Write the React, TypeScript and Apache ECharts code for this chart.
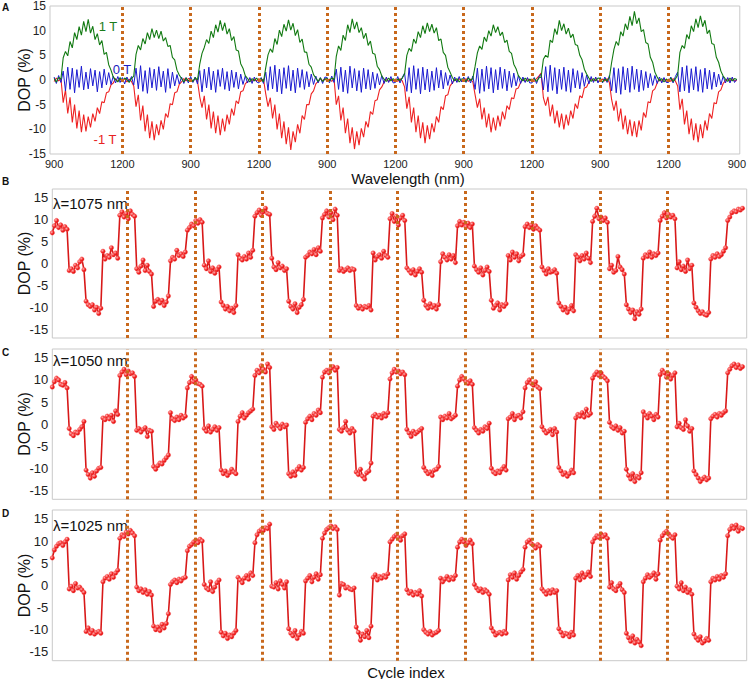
import React, { useEffect, useRef } from "react";
import * as echarts from "echarts";

// ---------- Panel A: DOP vs wavelength, 10 sweeps (900->1200->900 ...), 10 nm steps ----------
const sweepLabels = ["900", "1200", "900", "1200", "900", "1200", "900", "1200", "900", "1200", "900"];

const green1T = [
  [0.3, -0.4, 0.5, 0.2, 4.5, 5.8, 4.9, 7.8, 6.5, 9.6, 8.2, 10.8, 9.1, 11.9, 9.8, 12.3, 9.5, 10.9, 8.2, 9.4, 7.1, 8.0, 5.2, 5.6, 3.1, 2.0, 0.6, 0.1, -0.4, 0.5],
  [-0.3, 0.4, 0.1, -0.5, 0.3, 0.8, 5.2, 7.0, 6.1, 8.4, 7.3, 9.6, 8.2, 10.4, 8.6, 10.1, 8.4, 9.9, 7.9, 8.6, 6.8, 7.0, 4.6, 4.1, 2.0, 1.0, 0.3, -0.4, 0.4, -0.2],
  [0.2, -0.3, 0.5, 0.0, 3.2, 5.4, 6.6, 8.2, 7.4, 9.9, 8.6, 11.2, 9.7, 12.1, 10.0, 11.6, 9.3, 10.4, 8.0, 8.8, 6.1, 5.9, 3.3, 2.4, 0.9, 0.3, -0.4, 0.3, -0.2, 0.4],
  [-0.2, 0.3, -0.4, 2.5, 5.1, 6.3, 5.6, 8.4, 7.2, 10.1, 8.8, 11.3, 9.9, 12.2, 10.1, 11.5, 9.0, 10.2, 7.6, 8.3, 5.7, 5.6, 3.2, 2.6, 1.1, 0.4, -0.3, 0.4, -0.3, 0.2],
  [0.3, -0.2, 0.4, 0.1, 4.8, 6.9, 6.0, 9.1, 8.0, 11.2, 9.6, 12.4, 10.3, 11.8, 9.6, 10.6, 8.4, 9.5, 7.0, 7.9, 5.4, 5.2, 2.8, 2.1, 0.8, 0.2, -0.3, 0.4, -0.2, 0.3],
  [-0.3, 0.2, -0.1, 0.4, 1.2, 5.0, 6.4, 5.8, 8.3, 7.4, 9.8, 8.6, 11.0, 9.4, 11.6, 9.8, 11.3, 9.5, 10.6, 8.0, 8.3, 5.6, 5.0, 2.6, 1.6, 0.5, -0.2, 0.3, -0.4, 0.2],
  [0.2, -0.3, 0.4, -0.1, 0.3, 2.8, 5.5, 6.9, 6.2, 8.7, 7.8, 10.0, 8.9, 11.2, 9.6, 10.8, 9.0, 9.7, 7.6, 8.1, 5.8, 5.4, 3.2, 2.3, 0.9, 0.3, -0.2, 0.4, -0.3, 0.2],
  [-0.2, 0.3, -0.3, 0.4, 0.6, 4.2, 5.0, 4.6, 8.1, 7.6, 10.4, 9.2, 12.1, 10.0, 11.4, 9.3, 10.5, 8.6, 9.3, 7.2, 7.0, 5.0, 4.1, 2.2, 1.2, 0.4, -0.3, 0.3, -0.2, 0.4],
  [0.3, -0.4, 0.2, -0.2, 0.5, 3.6, 6.2, 7.8, 7.0, 9.8, 8.9, 11.4, 10.2, 12.9, 11.0, 13.9, 11.4, 12.6, 9.8, 10.2, 7.6, 7.3, 4.6, 3.6, 1.6, 0.6, -0.2, 0.3, -0.4, 0.2],
  [-0.2, 0.4, -0.3, 0.2, 1.0, 5.6, 7.0, 6.4, 9.2, 8.3, 11.0, 9.8, 12.4, 10.6, 13.0, 10.8, 12.1, 9.4, 10.1, 7.4, 7.2, 4.6, 3.6, 1.8, 0.8, 0.2, -0.3, 0.4, -0.2, 0.3, 0.1],
];

const blue0T = [
  [0.6, -0.7, 0.9, -0.5, 1.8, -2.2, 2.6, -1.9, 2.4, -2.6, 2.1, -1.5, 2.8, -2.0, 1.6, -1.8, 2.3, -1.2, 2.0, -2.4, 1.7, -1.6, 2.2, -1.0, 1.5, -0.9, 0.8, -0.6, 0.7, -0.5],
  [0.5, -0.8, 0.6, -0.4, 0.7, -1.0, 2.4, -1.8, 2.9, -2.3, 1.9, -2.7, 2.5, -1.6, 2.2, -2.1, 2.7, -1.4, 1.8, -2.5, 2.3, -1.7, 1.6, -1.2, 1.1, -0.8, 0.6, -0.7, 0.5, -0.6],
  [0.7, -0.5, 0.6, -0.8, 1.9, -2.4, 2.2, -1.6, 2.6, -2.0, 1.8, -2.5, 2.1, -1.3, 2.4, -1.9, 1.7, -2.2, 2.0, -1.5, 1.6, -1.8, 1.2, -0.9, 0.8, -0.6, 0.5, -0.7, 0.6, -0.4],
  [-0.6, 0.5, -0.7, 1.6, -2.1, 2.7, -1.8, 3.0, -2.4, 2.2, -2.8, 2.5, -1.7, 2.9, -2.2, 2.0, -2.6, 2.4, -1.5, 2.1, -1.9, 1.7, -1.4, 1.2, -0.9, 0.8, -0.6, 0.5, -0.7, 0.6],
  [0.5, -0.6, 0.8, -0.5, 2.2, -1.9, 2.6, -2.4, 2.0, -2.7, 2.8, -1.6, 2.3, -2.2, 1.9, -2.5, 2.4, -1.8, 2.1, -2.0, 1.6, -1.7, 1.3, -1.0, 0.9, -0.7, 0.6, -0.5, 0.7, -0.6],
  [-0.5, 0.7, -0.6, 0.5, 1.4, -2.3, 2.5, -2.6, 2.9, -1.9, 2.3, -2.8, 2.6, -2.0, 2.2, -2.4, 1.8, -2.1, 2.5, -1.6, 2.0, -1.8, 1.5, -1.1, 1.0, -0.8, 0.6, -0.5, 0.7, -0.4],
  [0.6, -0.5, 0.7, -0.6, 0.8, -1.9, 2.4, -2.7, 2.2, -2.3, 2.8, -1.8, 2.5, -2.6, 2.1, -2.0, 2.6, -1.7, 2.2, -2.2, 1.8, -1.5, 1.4, -1.2, 0.9, -0.7, 0.6, -0.5, 0.5, -0.6],
  [-0.6, 0.5, -0.7, 0.6, 1.2, -2.0, 2.7, -2.4, 3.0, -2.1, 2.5, -2.8, 2.2, -1.9, 2.6, -2.3, 2.0, -2.5, 2.3, -1.6, 1.9, -1.8, 1.5, -1.3, 1.0, -0.8, 0.7, -0.5, 0.6, -0.6],
  [0.5, -0.6, 0.6, -0.5, 0.9, -2.2, 2.5, -2.6, 2.3, -2.9, 2.7, -2.0, 2.4, -2.5, 2.8, -1.9, 2.2, -2.4, 2.0, -2.1, 1.7, -1.6, 1.3, -1.1, 0.9, -0.7, 0.6, -0.6, 0.5, -0.5],
  [-0.5, 0.6, -0.6, 0.7, 1.6, -2.4, 2.6, -2.2, 2.9, -2.6, 2.3, -2.0, 2.7, -2.3, 2.1, -2.5, 2.4, -1.8, 2.0, -1.9, 1.6, -1.4, 1.2, -1.0, 0.8, -0.6, 0.5, -0.6, 0.6, -0.5, 0.2],
];

const redMinus1T = [
  [-0.3, 0.4, -0.2, 0.3, -4.6, -2.0, -6.8, -3.5, -8.6, -5.0, -9.8, -6.2, -10.6, -7.0, -10.4, -7.4, -9.6, -6.8, -8.4, -5.6, -6.8, -4.4, -4.6, -2.6, -2.4, -1.0, -0.6, 0.3, -0.3, 0.2],
  [-0.2, 0.3, -0.4, 0.2, -0.3, -1.2, -5.4, -3.0, -8.2, -5.2, -10.4, -7.0, -11.8, -8.4, -12.2, -9.0, -11.2, -8.2, -10.0, -6.8, -7.6, -4.8, -5.0, -2.6, -2.4, -0.9, -0.4, 0.3, -0.2, 0.3],
  [0.2, -0.3, 0.3, -0.2, -3.4, -5.6, -3.2, -8.0, -5.0, -9.8, -6.4, -10.8, -7.2, -11.2, -7.8, -10.4, -7.0, -9.0, -5.8, -7.2, -4.2, -4.8, -2.4, -2.2, -0.8, -0.3, 0.3, -0.3, 0.2, -0.2],
  [0.3, -0.2, 0.2, -2.8, -5.4, -3.6, -7.8, -5.0, -10.0, -6.8, -11.8, -8.4, -13.0, -9.6, -14.2, -10.4, -12.6, -9.0, -10.8, -7.2, -8.0, -5.0, -5.0, -2.8, -2.2, -0.8, -0.3, 0.3, -0.2, 0.3],
  [-0.3, 0.2, -0.3, 0.3, -5.0, -3.2, -8.2, -5.6, -10.8, -7.8, -12.8, -9.6, -14.0, -10.4, -13.2, -9.8, -11.6, -8.4, -9.6, -6.4, -7.0, -4.2, -4.0, -2.0, -1.4, -0.4, 0.3, -0.3, 0.2, -0.2],
  [0.2, -0.3, 0.3, -0.2, -1.4, -5.8, -3.4, -8.6, -5.6, -10.6, -7.2, -11.8, -8.6, -12.8, -9.2, -12.0, -8.8, -10.6, -7.4, -8.6, -5.4, -6.0, -3.2, -3.0, -1.2, -0.6, 0.2, -0.3, 0.3, -0.2],
  [-0.2, 0.3, -0.3, 0.2, -0.4, -3.0, -5.6, -3.8, -8.0, -5.6, -9.6, -6.8, -10.6, -7.6, -10.2, -7.2, -9.4, -6.4, -8.0, -5.2, -6.0, -3.6, -3.8, -1.8, -1.6, -0.5, 0.2, -0.3, 0.3, -0.2],
  [0.2, -0.3, 0.3, 0.8, 1.4, -3.6, -5.2, -3.4, -7.4, -5.0, -8.8, -6.2, -9.6, -6.8, -10.0, -7.0, -9.2, -6.2, -7.8, -4.8, -5.8, -3.2, -3.6, -1.6, -1.4, -0.4, 0.3, -0.2, 0.3, -0.3],
  [-0.3, 0.2, -0.2, 0.3, -0.5, -4.0, -6.2, -4.2, -8.4, -5.8, -10.0, -7.2, -11.0, -8.0, -11.4, -8.4, -11.6, -8.2, -10.2, -6.6, -7.6, -4.4, -4.6, -2.2, -1.8, -0.6, 0.2, -0.3, 0.2, -0.3],
  [0.2, -0.3, 0.3, -0.2, -1.2, -6.0, -3.8, -9.0, -6.2, -11.0, -7.8, -12.2, -8.8, -12.6, -9.0, -11.8, -8.2, -10.2, -6.8, -7.8, -4.6, -4.8, -2.4, -2.0, -0.7, -0.2, 0.3, -0.2, 0.3, -0.2, -0.1],
];

// ---------- Panels B-D: DOP vs cycle index, one row per field step (8 samples each) ----------
const dop1075 = [
  [7.0, 8.6, 9.8, 8.2, 8.8, 7.6, 8.4, 7.8],
  [-1.6, -1.2, -1.8, -0.4, -1.0, 0.4, 1.0, -1.4],
  [-8.6, -9.4, -9.8, -9.4, -10.6, -10.0, -11.4, -10.2],
  [2.8, 1.0, 1.8, 1.4, 3.6, 2.0, 2.4, 1.2],
  [11.0, 11.8, 10.6, 11.4, 10.2, 12.0, 11.2, 10.8],
  [-1.2, -2.0, -0.6, 0.8, -1.6, -0.4, -1.8, -2.4],
  [-9.8, -8.6, -8.2, -9.0, -8.4, -9.6, -8.8, -7.4],
  [0.6, 1.4, 1.0, 3.0, 1.8, 2.2, 1.6, 2.6],
  [7.6, 8.2, 9.0, 8.6, 9.8, 9.2, 10.0, 9.4],
  [-0.4, -1.2, 0.6, -1.8, -1.0, -2.2, -1.4, -0.8],
  [-8.8, -9.6, -10.4, -9.8, -10.8, -10.2, -11.2, -9.6],
  [2.0, 1.2, 0.8, 1.6, 1.0, 2.4, 1.4, 3.0],
  [10.8, 11.6, 12.2, 11.0, 11.8, 12.6, 11.4, 11.2],
  [1.2, -0.8, -1.4, 0.2, -1.0, -0.6, -1.6, -1.2],
  [-8.6, -9.8, -10.4, -9.2, -11.2, -10.0, -9.4, -8.2],
  [1.4, 1.8, 2.6, 2.2, 3.2, 2.0, 3.6, 2.8],
  [10.4, 11.2, 12.0, 10.6, 11.6, 10.0, 12.4, 11.0],
  [-1.6, -1.2, -1.8, -1.4, -1.0, -1.6, -1.2, -1.4],
  [-9.6, -10.2, -9.8, -10.4, -9.8, -10.0, -9.6, -10.6],
  [2.4, 0.8, 1.6, 2.0, 1.2, 2.8, 1.8, 1.4],
  [10.2, 11.4, 9.6, 10.8, 8.8, 10.4, 11.0, 9.8],
  [-1.0, -1.6, -2.2, -1.4, -2.6, -1.8, -1.2, -2.0],
  [-8.4, -9.6, -10.2, -9.2, -10.0, -9.6, -10.4, -9.4],
  [0.4, 2.2, 1.4, 0.8, 2.0, 1.0, 1.8, 0.2],
  [8.6, 9.6, 8.8, 9.4, 8.4, 9.2, 8.2, 9.0],
  [-0.6, -1.4, -2.0, -1.0, -2.6, -1.6, -0.8, -1.8],
  [-8.4, -10.2, -9.6, -9.0, -10.6, -9.4, -9.8, -9.2],
  [1.8, 0.8, 2.6, 1.4, 2.2, 0.6, 1.6, 2.0],
  [8.4, 9.0, 8.2, 8.8, 7.8, 8.6, 8.0, 7.6],
  [-0.8, -1.6, -2.4, -1.2, -2.0, -1.8, -1.4, -2.2],
  [-9.0, -9.8, -10.6, -10.0, -11.2, -10.4, -9.6, -10.8],
  [2.0, 1.4, 0.6, 1.8, 1.0, 2.4, 1.2, 0.2],
  [9.6, 10.8, 12.6, 10.2, 10.6, 9.8, 10.4, 9.4],
  [-1.2, -0.4, -2.0, -1.6, 1.6, -0.8, -1.4, -2.4],
  [-9.4, -10.4, -11.2, -10.6, -12.6, -11.0, -11.6, -10.4],
  [1.2, 2.0, 1.6, 2.6, 1.4, 2.2, 1.8, 2.4],
  [9.8, 10.8, 11.6, 10.4, 11.2, 10.6, 11.0, 10.2],
  [-1.0, 0.4, -1.4, -0.6, -1.8, 0.8, -1.2, -0.4],
  [-9.0, -10.0, -10.8, -11.4, -11.0, -11.6, -11.8, -11.2],
  [1.0, 1.8, 1.4, 2.2, 1.6, 2.0, 2.8, 3.6],
  [9.8, 10.6, 11.6, 12.0, 11.8, 12.4, 12.2, 12.6],
];

const dop1050 = [
  [8.4, 9.6, 10.4, 10.0, 9.0, 8.8, 9.4, 8.2],
  [-1.0, -2.2, -2.6, -1.8, -2.0, -1.2, -0.6, 0.6],
  [-10.4, -11.4, -12.2, -11.0, -11.8, -10.6, -10.0, -9.8],
  [1.4, 1.0, 1.8, 1.2, 2.0, 0.6, 3.0, 2.2],
  [11.0, 11.8, 12.4, 11.2, 12.0, 11.4, 11.6, 10.8],
  [-1.4, -1.0, -1.8, -1.2, -0.8, -2.8, -1.4, -1.6],
  [-9.6, -10.2, -9.4, -8.8, -9.0, -8.2, -7.6, -7.0],
  [2.6, 1.2, 0.8, 1.6, 1.0, 2.0, 1.4, 1.8],
  [8.2, 9.4, 10.8, 9.6, 10.0, 9.2, 9.0, 8.6],
  [-1.0, -1.6, -0.4, -1.8, -1.2, -0.6, -1.4, -0.8],
  [-10.4, -11.2, -10.6, -11.6, -11.0, -10.2, -10.8, -11.2],
  [0.6, 1.8, 2.6, 1.4, 2.0, 2.6, 3.0, 3.4],
  [11.0, 12.2, 11.6, 13.2, 12.4, 11.8, 13.6, 12.8],
  [-0.6, -1.2, 0.2, -0.4, -1.0, 0.0, -0.6, -0.2],
  [-11.2, -11.8, -10.8, -11.6, -10.2, -9.6, -10.4, -9.8],
  [0.4, 1.2, 1.8, 1.0, 2.4, 2.0, 3.2, 2.6],
  [10.6, 11.8, 12.2, 11.6, 12.6, 13.0, 12.2, 12.8],
  [-1.2, -1.6, -0.8, 0.6, -1.4, -2.0, -1.0, -1.6],
  [-10.8, -11.4, -10.2, -11.8, -12.4, -11.0, -10.6, -8.8],
  [1.8, 2.2, 1.6, 2.0, 1.4, 2.4, 1.8, 2.6],
  [10.2, 11.6, 12.4, 11.8, 12.0, 11.4, 11.8, 11.2],
  [-1.2, -2.0, -2.8, -1.6, -2.2, -1.8, -1.4, -1.0],
  [-9.8, -10.6, -11.2, -10.8, -11.6, -10.4, -10.2, -9.6],
  [1.6, 1.0, 1.8, 1.4, 2.4, 1.2, 1.6, 2.0],
  [8.6, 10.0, 10.8, 10.2, 9.6, 9.2, 9.8, 9.0],
  [-0.8, -1.4, -2.0, -1.2, -1.6, -0.6, -1.0, 0.2],
  [-10.0, -10.8, -11.2, -10.6, -11.0, -10.2, -9.6, -10.4],
  [1.2, 1.6, 2.4, 1.0, 1.8, 2.0, 1.4, 2.8],
  [8.2, 9.4, 10.0, 9.2, 8.8, 9.6, 8.4, 8.0],
  [-0.6, -1.4, -2.0, -1.6, -1.2, -2.4, -1.0, -1.8],
  [-9.8, -10.6, -11.4, -11.0, -11.8, -11.2, -10.4, -11.0],
  [1.4, 2.2, 1.8, 2.6, 1.6, 3.4, 2.0, 2.4],
  [10.4, 11.2, 11.8, 11.0, 11.6, 10.8, 10.4, 9.8],
  [0.4, -0.6, -1.0, -0.4, -1.4, -0.8, -2.0, -1.6],
  [-10.2, -11.6, -12.4, -11.2, -13.0, -11.8, -12.2, -11.0],
  [2.8, 2.0, 1.4, 2.4, 1.8, 1.0, 2.2, 1.6],
  [11.2, 12.2, 11.6, 10.6, 11.4, 10.2, 11.0, 11.6],
  [-0.6, 0.2, -0.8, -1.2, 1.0, -0.4, -1.6, -1.0],
  [-10.6, -11.4, -12.2, -13.0, -12.4, -12.0, -12.6, -12.2],
  [1.2, 1.8, 2.2, 1.6, 2.4, 2.0, 2.6, 3.0],
  [11.6, 12.4, 13.2, 13.6, 12.8, 13.4, 12.6, 13.0],
];

const dop1025 = [
  [6.2, 8.0, 8.8, 9.4, 9.6, 9.0, 9.8, 10.4],
  [-0.8, -0.2, -1.2, 0.4, -0.6, -0.4, -1.0, -1.6],
  [-10.4, -9.6, -10.8, -10.2, -11.0, -10.6, -10.4, -10.8],
  [0.8, 1.6, 2.0, 1.4, 2.6, 1.8, 2.8, 3.4],
  [10.6, 11.4, 11.0, 12.0, 11.6, 12.4, 11.8, 11.2],
  [-0.4, -1.2, -0.8, -1.6, -1.0, -2.0, -1.4, -2.2],
  [-9.2, -10.0, -9.4, -10.2, -8.8, -9.6, -8.6, -6.4],
  [0.2, 0.8, 1.2, 0.6, 1.4, 1.0, 1.6, 1.8],
  [7.8, 8.8, 9.2, 9.8, 10.2, 9.6, 10.4, 10.0],
  [0.2, -0.6, -1.0, 0.8, -1.4, -0.4, 0.6, 1.2],
  [-10.6, -11.4, -10.8, -12.0, -11.2, -11.6, -10.8, -10.2],
  [1.8, 1.2, 0.6, 1.6, 2.2, 1.4, 2.8, 2.2],
  [9.6, 11.4, 12.2, 12.6, 12.4, 13.0, 12.8, 13.8],
  [-0.2, -0.4, 0.6, -0.8, 1.0, 0.2, -0.6, 0.8],
  [-9.8, -10.8, -11.4, -10.2, -12.0, -11.2, -10.4, -10.8],
  [1.0, 1.6, 2.2, 0.8, 1.8, 2.6, 1.4, 2.4],
  [10.6, 11.8, 12.6, 13.0, 13.4, 12.8, 13.2, 12.6],
  [-2.2, 0.4, 0.2, -0.6, -0.4, -0.8, -1.0, -0.6],
  [-9.4, -10.6, -12.4, -11.0, -11.6, -10.2, -11.8, -9.2],
  [1.8, 2.4, 1.2, 2.0, 1.6, 2.2, 1.8, 2.6],
  [9.8, 10.4, 11.0, 11.4, 10.8, 10.2, 11.2, 11.6],
  [-1.0, -1.8, -1.4, -2.2, -1.6, -2.0, -1.2, -2.4],
  [-10.0, -10.6, -11.0, -10.4, -11.2, -10.8, -10.6, -10.2],
  [1.6, 0.8, 1.4, 2.0, 1.2, 1.8, 1.4, 2.2],
  [8.6, 9.8, 10.4, 9.8, 9.0, 9.6, 10.2, 9.4],
  [0.2, -0.6, -1.2, -0.8, -1.6, -1.0, -1.4, -2.0],
  [-9.6, -10.4, -11.2, -10.8, -10.6, -11.0, -10.4, -10.8],
  [1.2, 2.4, 1.8, 2.8, 1.4, 2.2, 3.0, 3.6],
  [8.6, 9.8, 10.2, 9.4, 9.0, 8.4, 9.2, 8.8],
  [-0.8, -1.4, -2.0, -1.2, -1.8, -1.0, -1.6, -1.2],
  [-9.8, -10.6, -11.4, -10.8, -11.0, -11.6, -10.6, -11.2],
  [1.6, 2.2, 1.2, 2.8, 1.8, 2.4, 3.0, 2.0],
  [9.8, 10.6, 11.2, 10.8, 11.6, 11.0, 11.4, 10.6],
  [-0.4, 0.6, -0.8, -1.2, -0.2, 0.4, -1.0, -1.6],
  [-10.8, -11.8, -12.6, -11.4, -13.0, -12.2, -12.8, -13.6],
  [0.8, 1.6, 2.4, 1.8, 2.2, 2.8, 1.4, 2.6],
  [10.2, 11.2, 11.8, 12.2, 11.6, 11.0, 10.6, 11.4],
  [-0.2, -0.8, 0.6, -1.2, -0.4, -1.6, -1.0, -2.0],
  [-11.0, -11.8, -12.4, -11.6, -13.0, -12.6, -12.0, -12.4],
  [0.8, 1.6, 1.2, 2.0, 1.4, 2.2, 1.8, 2.6],
  [11.2, 12.6, 13.4, 12.8, 13.6, 12.2, 13.0, 12.8],
];

const dopTicks = [-15, -10, -5, 0, 5, 10, 15];
const panelLambdas = ["λ=1075 nm", "λ=1050 nm", "λ=1025 nm"];
const cycleNumbers = [1, 2, 3, 4, 5, 6, 7, 8, 9];

// ---------- layout / style ----------
const W = 749;
const H = 679;
const FONT = "'Liberation Sans', Arial, Helvetica, sans-serif";
const SWEEP = 300; // nm per sweep
const STEP = 10; // nm per sample
const PTS = 8; // samples per field step
const MARK_COLOR = "#c8681c";

const sweepData = (segs: number[][]) =>
  segs.flatMap((seg, s) => seg.map((v, j) => [s * SWEEP + j * STEP, v]));

const cycleData = (levels: number[][]) => levels.flat().map((v, i) => [i, v]);

const markLineStyle = {
  silent: true,
  symbol: ["none", "none"],
  label: { show: false },
  lineStyle: { color: MARK_COLOR, width: 3, type: [3, 3], opacity: 1 },
};

const grids = [
  { left: 50, top: 5.7, width: 691, height: 148.3 },
  { left: 52.3, top: 189, width: 694.4, height: 149 },
  { left: 52.3, top: 349, width: 694.4, height: 150.3 },
  { left: 52.3, top: 510, width: 694.4, height: 150.7 },
].map((g) => ({ ...g, show: true, borderColor: "#c9c9c9", borderWidth: 1, backgroundColor: "transparent" }));

const redBall = {
  type: "radial",
  x: 0.35,
  y: 0.35,
  r: 0.75,
  colorStops: [
    { offset: 0, color: "#ffb3b3" },
    { offset: 0.55, color: "#f02020" },
    { offset: 1, color: "#d00000" },
  ],
};

function buildOption() {
  const xAxes: any[] = [
    {
      type: "value",
      gridIndex: 0,
      min: -18,
      max: 3013,
      axisLine: { show: false },
      axisTick: { show: false },
      splitLine: { show: false },
      axisLabel: {
        customValues: sweepLabels.map((_, i) => i * SWEEP),
        formatter: (v: number) => sweepLabels[Math.round(v / SWEEP)] ?? "",
        fontSize: 11,
        lineHeight: 12,
        color: "#222",
        margin: 4,
        fontFamily: FONT,
      },
    },
  ];
  const yAxes: any[] = [
    {
      type: "value",
      gridIndex: 0,
      min: -15,
      max: 15,
      interval: 5,
      axisLine: { show: false },
      axisTick: { show: false },
      splitLine: { show: false },
      axisLabel: { fontSize: 12, color: "#222", margin: 4, fontFamily: FONT },
    },
  ];
  for (let p = 1; p <= 3; p++) {
    xAxes.push({
      type: "value",
      gridIndex: p,
      min: 0,
      max: 329,
      axisLine: { show: false },
      axisTick: { show: false },
      splitLine: { show: false },
      axisLabel: { show: false },
    });
    yAxes.push({
      type: "value",
      gridIndex: p,
      min: -17,
      max: 17,
      axisLine: { show: false },
      axisTick: { show: false },
      splitLine: { show: false },
      axisLabel: { customValues: dopTicks, fontSize: 13, color: "#222", margin: 4, fontFamily: FONT },
    });
  }

  const series: any[] = [
    {
      type: "line",
      xAxisIndex: 0,
      yAxisIndex: 0,
      data: sweepData(redMinus1T),
      showSymbol: false,
      lineStyle: { color: "#ee2222", width: 1.1 },
      z: 2,
    },
    {
      type: "line",
      xAxisIndex: 0,
      yAxisIndex: 0,
      data: sweepData(blue0T),
      showSymbol: false,
      lineStyle: { color: "#1a1ad0", width: 1 },
      z: 3,
    },
    {
      type: "line",
      xAxisIndex: 0,
      yAxisIndex: 0,
      data: sweepData(green1T),
      showSymbol: false,
      lineStyle: { color: "#127a12", width: 1.1 },
      z: 4,
    },
    {
      type: "line",
      xAxisIndex: 0,
      yAxisIndex: 0,
      data: [],
      z: 10,
      markLine: { ...markLineStyle, data: cycleNumbers.map((c) => ({ xAxis: c * SWEEP })) },
    },
  ];

  [dop1075, dop1050, dop1025].forEach((levels, k) => {
    const p = k + 1;
    series.push({
      type: "line",
      xAxisIndex: p,
      yAxisIndex: p,
      data: cycleData(levels),
      symbol: "circle",
      symbolSize: 4.6,
      showSymbol: true,
      showAllSymbol: true,
      lineStyle: { color: "#d81818", width: 1.6 },
      itemStyle: { color: redBall, borderColor: "#ff7070", borderWidth: 0.4 },
      z: 3,
    });
    series.push({
      type: "line",
      xAxisIndex: p,
      yAxisIndex: p,
      data: [],
      z: 10,
      markLine: {
        ...markLineStyle,
        data: cycleNumbers.map((c) => ({ xAxis: c * 4 * PTS + (PTS - 1) / 2 })),
      },
    });
  });

  const txt = (x: number, y: number, text: string, extra: any = {}, style: any = {}) => ({
    type: "text",
    x,
    y,
    ...extra,
    style: { text, fill: "#111", fontFamily: FONT, fontSize: 15, align: "left", verticalAlign: "middle", ...style },
  });

  const graphic: any[] = [
    txt(2, 7, "A", {}, { fontSize: 10, fontWeight: "bold" }),
    txt(2, 181, "B", {}, { fontSize: 10, fontWeight: "bold" }),
    txt(2, 352, "C", {}, { fontSize: 10, fontWeight: "bold" }),
    txt(2, 513, "D", {}, { fontSize: 10, fontWeight: "bold" }),
    txt(408, 178, "Wavelength (nm)", {}, { align: "center", lineHeight: 15 }),
    txt(406, 672, "Cycle index", {}, { align: "center" }),
    txt(108, 26, "1 T", {}, { align: "center", fontSize: 13, fill: "#1a7c1a" }),
    txt(122, 69.5, "0 T", {}, { align: "center", fontSize: 13, fill: "#1c1cc0" }),
    txt(105, 139.5, "-1 T", {}, { align: "center", fontSize: 13, fill: "#e82222" }),
    txt(53, 203.3, panelLambdas[0]),
    txt(53, 360.7, panelLambdas[1]),
    txt(53, 525, panelLambdas[2]),
  ];
  [80, 263.5, 424, 585.5].forEach((cy) => {
    graphic.push(
      txt(24, cy, "DOP (%)", { rotation: Math.PI / 2 }, { align: "center", fontSize: 16 })
    );
  });

  return {
    animation: false,
    backgroundColor: "#ffffff",
    textStyle: { fontFamily: FONT },
    grid: grids,
    xAxis: xAxes,
    yAxis: yAxes,
    series,
    graphic,
  };
}

export default function App() {
  const ref = useRef<HTMLDivElement>(null);
  useEffect(() => {
    if (!ref.current) return;
    const chart = echarts.init(ref.current, null, { renderer: "svg" });
    chart.setOption(buildOption() as any);
    return () => chart.dispose();
  }, []);
  return (
    <div
      ref={ref}
      style={{ position: "fixed", left: 0, top: 0, width: W, height: H, background: "#fff" }}
    />
  );
}
